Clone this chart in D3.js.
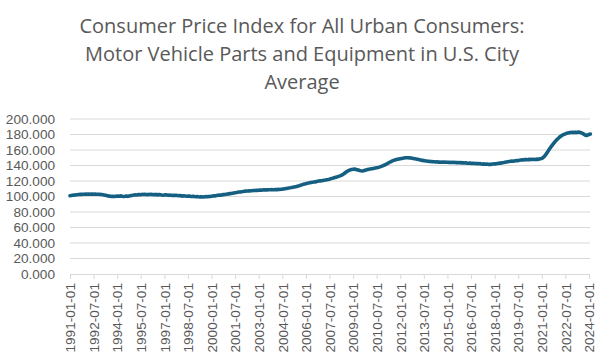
<!DOCTYPE html>
<html>
<head>
<meta charset="utf-8">
<script src="https://cdn.jsdelivr.net/npm/d3@7"></script>
<style>
  html, body { margin: 0; padding: 0; background: #fff; }
  svg { display: block; }
</style>
</head>
<body>
<svg id="chart" width="603" height="364"></svg>
<script>
// ---- data ----
const titleLines = [
  "Consumer Price Index for All Urban Consumers:",
  "Motor Vehicle Parts and Equipment in U.S. City",
  "Average"
];
const startMonth = "1991-01-01";
const values1991 = [100.9,101.2,101.5,101.8,102.0,102.3,102.4,102.6,102.8,102.7,102.9,103.0];
const values1992 = [103.1,102.9,103.2,103.0,103.3,103.1,102.9,103.2,103.0,102.8,103.0,102.7];
const values1993 = [102.6,102.3,102.0,101.6,101.2,100.8,100.5,100.2,99.9,100.3,100.1,100.4];
const values1994 = [100.6,100.2,100.5,100.8,100.4,100.1,100.3,100.6,100.2,100.5,100.9,101.3];
const values1995 = [101.6,101.9,102.2,102.0,102.4,102.6,102.3,102.7,102.5,102.8,102.6,102.4];
const values1996 = [102.7,102.5,102.8,102.6,102.3,102.7,102.4,102.1,102.5,102.2,101.9,101.7];
const values1997 = [101.9,102.1,101.8,101.5,101.8,101.6,101.3,101.7,101.4,101.5,101.2,100.9];
const values1998 = [101.1,100.8,100.5,100.9,100.6,100.4,100.7,100.5,100.2,100.0,100.3,99.9];
const values1999 = [99.7,100.0,99.6,99.4,99.8,99.5,99.3,99.6,99.9,99.7,100.1,100.0];
const values2000 = [100.4,100.7,101.0,100.8,101.3,101.6,101.9,101.7,102.1,102.4,102.6,102.9];
const values2001 = [103.1,103.4,103.7,104.0,104.3,104.6,104.9,105.1,105.4,105.7,105.9,106.2];
const values2002 = [106.4,106.7,106.9,107.1,107.0,107.3,107.5,107.4,107.7,107.8,108.0,107.9];
const values2003 = [108.1,108.3,108.2,108.4,108.6,108.5,108.7,108.6,108.8,108.7,108.9,108.8];
const values2004 = [108.9,109.1,108.9,109.2,109.0,109.3,109.5,109.8,110.1,110.4,110.7,111.0];
const values2005 = [111.2,111.5,111.8,112.2,112.6,113.0,113.5,114.0,114.6,115.1,115.7,116.2];
const values2006 = [116.6,117.0,117.3,117.7,118.1,118.4,118.6,118.9,119.2,119.6,119.9,120.2];
const values2007 = [120.4,120.7,121.0,121.3,121.7,122.0,122.4,122.9,123.4,123.9,124.4,124.9];
const values2008 = [125.4,126.0,126.6,127.3,128.2,129.3,130.6,131.9,133.0,133.8,134.4,134.8];
const values2009 = [135.1,135.3,135.0,134.6,134.1,133.6,133.2,133.0,133.3,133.8,134.3,134.7];
const values2010 = [135.1,135.4,135.8,136.0,136.3,136.7,137.0,137.4,137.9,138.5,139.2,139.9];
const values2011 = [140.6,141.4,142.3,143.3,144.2,145.1,145.9,146.6,147.2,147.7,148.1,148.5];
const values2012 = [148.8,149.1,149.4,149.7,149.9,150.1,150.0,149.8,149.6,149.3,149.0,148.7];
const values2013 = [148.4,148.1,147.7,147.3,146.9,146.6,146.3,146.0,145.8,145.5,145.3,145.1];
const values2014 = [145.0,144.8,144.9,144.6,144.7,144.4,144.6,144.3,144.5,144.2,144.4,144.1];
const values2015 = [144.3,144.0,144.2,143.9,144.1,143.8,144.0,143.7,143.9,143.5,143.7,143.4];
const values2016 = [143.6,143.2,143.4,143.0,142.8,143.1,142.7,142.9,142.5,142.7,142.4,142.6];
const values2017 = [142.2,142.4,142.0,141.8,142.1,141.6,141.9,141.5,141.7,141.4,141.8,142.0];
const values2018 = [142.3,142.1,142.6,142.9,143.3,143.1,143.6,143.9,144.3,144.6,144.9,145.2];
const values2019 = [145.4,145.7,145.5,145.9,146.2,146.5,146.3,146.8,147.1,147.4,147.2,147.6];
const values2020 = [147.8,147.5,147.9,147.6,148.0,147.7,148.1,147.8,148.2,147.9,148.3,148.6];
const values2021 = [149.2,150.3,151.8,153.9,156.4,159.0,161.6,164.0,166.3,168.5,170.6,172.5];
const values2022 = [174.2,175.8,177.2,178.4,179.4,180.2,180.9,181.5,182.0,182.4,182.6,182.8];
const values2023 = [182.9,182.6,183.0,182.7,183.1,182.8,182.4,181.6,180.5,179.4,178.8,179.3];
const values2024 = [180.1,180.6];
const xTickLabels = ["1991-01-01","1992-07-01","1994-01-01","1995-07-01","1997-01-01","1998-07-01",
  "2000-01-01","2001-07-01","2003-01-01","2004-07-01","2006-01-01","2007-07-01","2009-01-01",
  "2010-07-01","2012-01-01","2013-07-01","2015-01-01","2016-07-01","2018-01-01","2019-07-01",
  "2021-01-01","2022-07-01","2024-01-01"];
const yTickValues = [0,20,40,60,80,100,120,140,160,180,200];

// ---- build series ----
const parse = d3.utcParse("%Y-%m-%d");
const allValues = [].concat(values1991,values1992,values1993,values1994,values1995,values1996,
  values1997,values1998,values1999,values2000,values2001,values2002,values2003,values2004,
  values2005,values2006,values2007,values2008,values2009,values2010,values2011,values2012,
  values2013,values2014,values2015,values2016,values2017,values2018,values2019,values2020,
  values2021,values2022,values2023,values2024);
const startDate = parse(startMonth);
const series = allValues.map((v, i) => ({date: d3.utcMonth.offset(startDate, i), value: v}));

// ---- layout ----
const svg = d3.select("#chart");
const plotLeft = 70, plotRight = 589, plotTop = 119, plotBottom = 274;
const textColor = "#595959";

const x = d3.scaleUtc()
  .domain([parse(xTickLabels[0]), parse(xTickLabels[xTickLabels.length - 1])])
  .range([plotLeft, plotRight]);
const y = d3.scaleLinear().domain([0, 200]).range([plotBottom, plotTop]);

// title
const title = svg.append("text")
  .attr("text-anchor", "middle")
  .attr("font-family", "'Open Sans', 'Noto Sans', sans-serif")
  .attr("font-size", 20)
  .attr("fill", textColor);
titleLines.forEach((t, i) => {
  title.append("tspan").attr("x", 302).attr("y", 33 + i * 28).text(t);
});

// gridlines
svg.append("g")
  .selectAll("line")
  .data(yTickValues.filter(v => v > 0))
  .join("line")
  .attr("x1", plotLeft).attr("x2", 590)
  .attr("y1", d => y(d)).attr("y2", d => y(d))
  .attr("stroke", "#d9d9d9").attr("stroke-width", 1);

// y axis
const yAxis = svg.append("g")
  .attr("transform", `translate(${plotLeft},0)`)
  .call(d3.axisLeft(y).tickValues(yTickValues).tickSize(0).tickPadding(15)
    .tickFormat(d3.format(".3f")));
yAxis.select(".domain").remove();
yAxis.selectAll("text")
  .attr("font-family", "'Liberation Sans', Arial, sans-serif")
  .attr("font-size", 13.6)
  .attr("fill", textColor);

// x axis
const xAxis = svg.append("g")
  .attr("transform", `translate(0,${plotBottom})`)
  .call(d3.axisBottom(x).tickValues(xTickLabels.map(parse)).tickSize(5)
    .tickFormat(d3.utcFormat("%Y-%m-%d")));
xAxis.select(".domain")
  .attr("d", `M${plotLeft},0.5H590`)
  .attr("stroke", "#d9d9d9");
xAxis.selectAll(".tick line").attr("stroke", "#d9d9d9");
xAxis.selectAll("text")
  .attr("font-family", "'Liberation Sans', Arial, sans-serif")
  .attr("font-size", 13.6)
  .attr("fill", textColor)
  .attr("text-anchor", "end")
  .attr("transform", "rotate(-90)")
  .attr("x", -9)
  .attr("y", 0)
  .attr("dy", "0.35em");

// line
svg.append("path")
  .datum(series)
  .attr("fill", "none")
  .attr("stroke", "#156082")
  .attr("stroke-width", 3.6)
  .attr("stroke-linejoin", "round")
  .attr("stroke-linecap", "round")
  .attr("d", d3.line().x(d => x(d.date)).y(d => y(d.value)));
</script>
</body>
</html>
